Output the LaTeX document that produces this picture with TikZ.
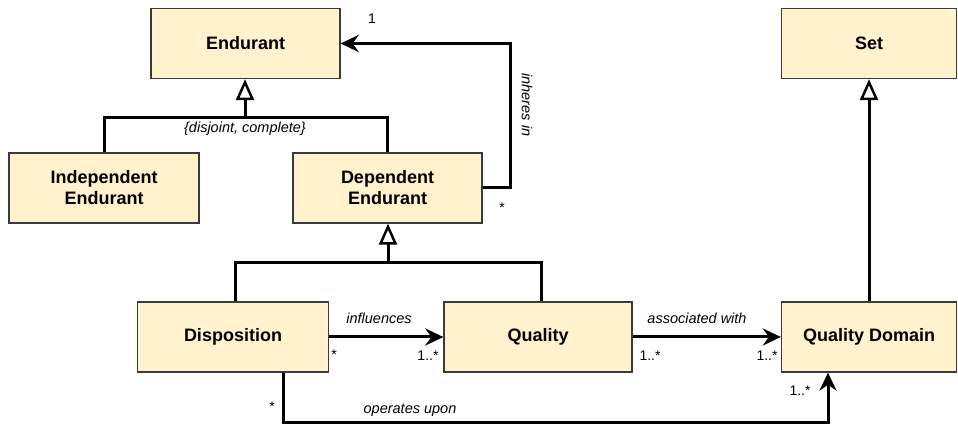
\documentclass[tikz,border=0pt]{standalone}
\usepackage{fontspec}
\setmainfont{Liberation Sans}
\usetikzlibrary{arrows.meta}
\definecolor{boxfill}{HTML}{FFF2CC}
\definecolor{boxline}{HTML}{3A3A3A}
\begin{document}
\begin{tikzpicture}[x=1pt,y=-1pt,
  cls/.style={draw=boxline, line width=1.3pt, fill=boxfill, font=\fontsize{18}{21}\selectfont\bfseries, align=center, inner sep=0pt, minimum height=70pt},
  conn/.style={line width=3pt, black},
  gen/.style={conn, -{Triangle[open, length=21pt, width=18pt, line width=2.5pt, fill=white]}},
  assoc/.style={conn, -{Stealth[length=18pt, width=17pt, inset=6pt]}},
  lbl/.style={font=\fontsize{14.5}{17}\selectfont\itshape, inner sep=0pt},
  mult/.style={font=\fontsize{14}{16}\selectfont, inner sep=0pt}]
\useasboundingbox (0,0) rectangle (958,427);

% classes
\node[cls, minimum width=189pt] (end) at (245.5,43.5) {Endurant};
\node[cls, minimum width=190pt] (ind) at (104,188) {Independent\\Endurant};
\node[cls, minimum width=189pt] (dep) at (387.5,188) {Dependent\\Endurant};
\node[cls, minimum width=175pt] (set) at (869,43.5) {Set};
\node[cls, minimum width=191pt] (disp) at (233,337) {Disposition};
\node[cls, minimum width=188pt] (qual) at (538,337) {Quality};
\node[cls, minimum width=175pt] (qd) at (869,337) {Quality Domain};

% generalization Endurant
\coordinate (j1) at (245,118);
\draw[conn] (ind.north) |- (j1);
\draw[conn] (dep.north) |- (j1);
\draw[gen] (j1) -- (end.south -| j1);
\node[lbl] at (245,129) {\{disjoint, complete\}};

% inheres in
\coordinate (c1) at (510,188);
\coordinate (c2) at (510,43.5);
\draw[assoc] (dep.east) -- (c1) -- (c2) -- (end.east);
\node[mult] at (372,19) {1};
\node[mult] at (502,208) {*};
\node[lbl, rotate=-90] at (527,105) {inheres in};

% generalization Dependent Endurant
\coordinate (j2) at (388,263);
\coordinate (jl) at (235,263);
\coordinate (jr) at (541,263);
\draw[conn] (disp.north -| jl) -- (jl) -- (jr) -- (qual.north -| jr);
\draw[gen] (j2) -- (dep.south -| j2);

% influences
\draw[assoc] (disp.east) -- (qual.west);
\node[lbl] at (379,318) {influences};
\node[mult] at (334,355) {*};
\node[mult] at (428,356) {1..*};

% associated with
\draw[assoc] (qual.east) -- (qd.west);
\node[lbl] at (697,318) {associated with};
\node[mult] at (650,356) {1..*};
\node[mult] at (767,356) {1..*};

% operates upon
\coordinate (o1) at (283,422);
\coordinate (o2) at (828,422);
\draw[assoc] (disp.south -| o1) -- (o1) -- (o2) -- (qd.south -| o2);
\node[lbl] at (410,410) {operates upon};
\node[mult] at (272,407) {*};
\node[mult] at (800,391) {1..*};

% Set generalization
\draw[gen] (qd.north) -- (set.south);
\end{tikzpicture}
\end{document}
